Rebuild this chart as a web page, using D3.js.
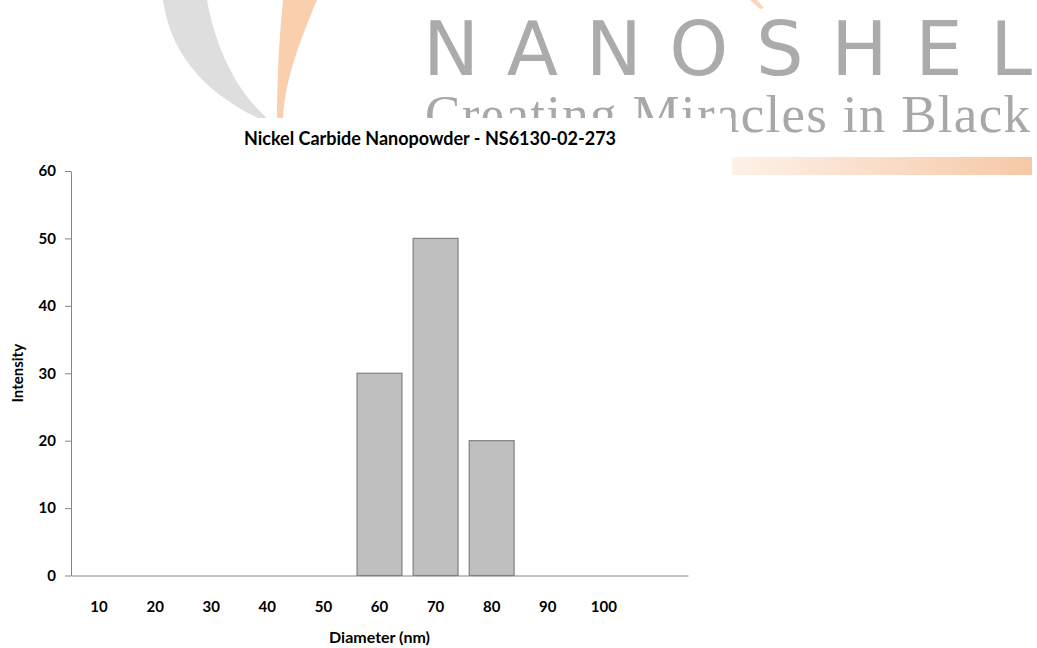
<!DOCTYPE html>
<html>
<head>
<meta charset="utf-8">
<script src="https://cdn.jsdelivr.net/npm/d3@7"></script>
<style>
  html, body { margin: 0; padding: 0; background: #ffffff; }
  svg { display: block; }
</style>
</head>
<body>
<svg id="chart" width="1037" height="648"></svg>
<script>
// Particle size distribution data
const diameters = ["10", "20", "30", "40", "50", "60", "70", "80", "90", "100", ""];
const intensity = [0, 0, 0, 0, 0, 30, 50, 20, 0, 0, 0];
const yTicks = [0, 10, 20, 30, 40, 50, 60];

const chartTitle = "Nickel Carbide Nanopowder - NS6130-02-273";
const xTitle = "Diameter (nm)";
const yTitle = "Intensity";

const svg = d3.select("#chart");
const W = 1037, H = 648;

// ---- brand header ----
const brand = svg.append("g").attr("class", "brand");
const defs = svg.append("defs");
const grad = defs.append("linearGradient").attr("id", "barGrad")
  .attr("x1", "0%").attr("x2", "100%").attr("y1", "0%").attr("y2", "0%");
grad.append("stop").attr("offset", "0%").attr("stop-color", "#fdf1e8");
grad.append("stop").attr("offset", "100%").attr("stop-color", "#f6c9a6");

defs.append("clipPath").attr("id", "headerClip")
  .append("path")
  .attr("d", "M0,0 H1037 V648 H732 V118 H0 Z");

// grey swoosh
brand.append("path")
  .attr("d", "M163,0 C170,50 200,90 258,118 L267,118 C235,90 215,45 207,0 Z")
  .attr("fill", "#dedede");
// orange swoosh
brand.append("path")
  .attr("d", "M283,0 C279,40 277,80 277,118 L283,118 C285,80 300,40 317,0 Z")
  .attr("fill", "#f9cfae");
brand.append("path")
  .attr("d", "M750,0 L757,0 L764,8 L760,9 Z")
  .attr("fill", "#f9d6bb");

brand.append("text")
  .attr("x", 423).attr("y", 75)
  .attr("textLength", 609).attr("lengthAdjust", "spacing")
  .attr("font-family", "'DejaVu Sans', sans-serif")
  .attr("font-size", 75)
  .attr("fill", "#ababab")
  .text("NANOSHEL");

brand.append("text")
  .attr("clip-path", "url(#headerClip)")
  .attr("x", 425).attr("y", 132)
  .attr("textLength", 605).attr("lengthAdjust", "spacing")
  .attr("font-family", "'Liberation Serif', 'DejaVu Serif', serif")
  .attr("font-size", 53)
  .attr("fill", "#a8a8a8")
  .text("Creating Miracles in Black");

brand.append("rect")
  .attr("x", 732).attr("y", 157).attr("width", 300).attr("height", 18)
  .attr("fill", "url(#barGrad)");

// ---- chart panel ----
svg.append("rect")
  .attr("x", 0).attr("y", 118).attr("width", 732).attr("height", H - 118)
  .attr("fill", "#ffffff");

const plot = { left: 71, right: 688, top: 171, bottom: 575.5 };

const x = d3.scaleBand()
  .domain(diameters)
  .range([plot.left, plot.right])
  .paddingInner(0.2)
  .paddingOuter(0.1);

const y = d3.scaleLinear()
  .domain([0, 60])
  .range([plot.bottom, plot.top]);

const axisColor = "#868686";
const fontFam = "Lato, 'Open Sans', sans-serif";

// bars
const rows = diameters.map((d, i) => ({ d, v: intensity[i] })).filter(r => r.v > 0);
svg.append("g")
  .selectAll("rect")
  .data(rows)
  .join("rect")
  .attr("x", r => x(r.d))
  .attr("y", r => y(r.v))
  .attr("width", x.bandwidth())
  .attr("height", r => y(0) - y(r.v))
  .attr("fill", "#bfbfbf")
  .attr("stroke", "#7f7f7f")
  .attr("stroke-width", 1.2);

// y axis
const yAxis = svg.append("g")
  .attr("transform", `translate(${plot.left},0)`)
  .call(d3.axisLeft(y).tickValues(yTicks).tickSize(6).tickPadding(9).tickSizeOuter(0));
yAxis.select(".domain").attr("stroke", axisColor);
yAxis.selectAll(".tick line").attr("stroke", axisColor);
yAxis.selectAll(".tick text")
  .attr("font-family", fontFam).attr("font-weight", 700)
  .attr("font-size", 15).attr("fill", "#000");

// x axis
const xAxis = svg.append("g")
  .attr("transform", `translate(0,${plot.bottom})`)
  .call(d3.axisBottom(x).tickSize(0).tickPadding(26).tickSizeOuter(0));
xAxis.select(".domain").attr("stroke", axisColor);
xAxis.selectAll(".tick text")
  .attr("font-family", fontFam).attr("font-weight", 700)
  .attr("font-size", 15).attr("fill", "#000");

// titles
svg.append("text")
  .attr("x", 430).attr("y", 145)
  .attr("text-anchor", "middle")
  .attr("font-family", fontFam).attr("font-weight", 700)
  .attr("font-size", 18).attr("fill", "#000")
  .text(chartTitle);

svg.append("text")
  .attr("x", (plot.left + plot.right) / 2).attr("y", 643)
  .attr("text-anchor", "middle")
  .attr("font-family", fontFam).attr("font-weight", 700)
  .attr("font-size", 16).attr("fill", "#000")
  .text(xTitle);

svg.append("text")
  .attr("transform", `translate(23,${(plot.top + plot.bottom) / 2}) rotate(-90)`)
  .attr("text-anchor", "middle")
  .attr("font-family", fontFam).attr("font-weight", 700)
  .attr("font-size", 15).attr("fill", "#000")
  .text(yTitle);
</script>
</body>
</html>
